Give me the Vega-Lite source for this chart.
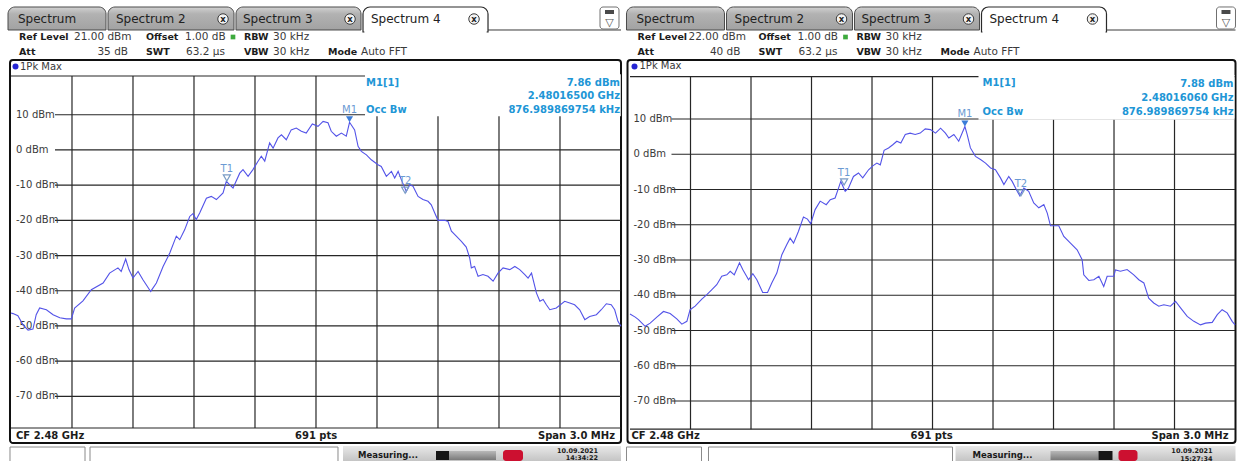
{
  "$schema": "https://vega.github.io/schema/vega-lite/v6.json",
  "padding": 0,
  "background": "white",
  "bounds": "flush",
  "spacing": 0,
  "config": {"view": {"stroke": null}, "facet": {"spacing": 0}, "text": {"font": "DejaVu Sans", "baseline": "middle"}},
  "data": {"values": [
    {"panel":"L","type":"ext","f":-1.5393,"p":-89.225},{"panel":"L","type":"ext","f":1.5025,"p":41.74},
    {"panel":"R","type":"ext","f":-1.5397,"p":-87.87},{"panel":"R","type":"ext","f":1.5272,"p":42.91},

    {"panel":"L","type":"tab","f":-1.5147,"f2":-1.0327,"p":40.60,"p2":34.07},
    {"panel":"L","type":"tab","f":-1.0229,"f2":-0.4032,"p":40.60,"p2":34.07},
    {"panel":"L","type":"tab","f":-0.3934,"f2":0.2214,"p":40.60,"p2":34.07},
    {"panel":"L","type":"tabA","f":0.2312,"f2":0.8460,"p":40.60,"p2":33.50},
    {"panel":"L","type":"cover","f":0.2380,"f2":0.8392,"p":33.93,"p2":33.07},
    {"panel":"L","type":"line","f":0.8460,"f2":1.5001,"p":34.07,"p2":34.07},
    {"panel":"L","type":"icon","f":1.3968,"f2":1.4902,"p":40.60,"p2":34.35},
    {"panel":"L","type":"iconbar","f":1.4213,"f2":1.4656,"p":39.75,"p2":38.62},
    {"panel":"L","type":"icong","f":1.4435,"p":36.06},
    {"panel":"L","type":"tabt","t":"Spectrum","f":-1.4655,"p":37.19},
    {"panel":"L","type":"tabt","t":"Spectrum 2","f":-0.9836,"p":37.19},
    {"panel":"L","type":"tabt","t":"Spectrum 3","f":-0.3590,"p":37.19},
    {"panel":"L","type":"tabt","t":"Spectrum 4","f":0.2705,"p":37.19},
    {"panel":"L","type":"xbtn","f":-0.4573,"p":37.19},
    {"panel":"L","type":"xbtn","f":0.1673,"p":37.19},
    {"panel":"L","type":"xbtn","f":0.7772,"p":37.19},
    {"panel":"L","type":"lab","t":"Ref Level","f":-1.4606,"p":32.08},
    {"panel":"L","type":"lab","t":"Offset","f":-0.8360,"p":32.08},
    {"panel":"L","type":"lab","t":"RBW","f":-0.3541,"p":32.08},
    {"panel":"L","type":"lab","t":"Att","f":-1.4606,"p":27.96},
    {"panel":"L","type":"lab","t":"SWT","f":-0.8360,"p":27.96},
    {"panel":"L","type":"lab","t":"VBW","f":-0.3541,"p":27.96},
    {"panel":"L","type":"lab","t":"Mode","f":0.0591,"p":27.96},
    {"panel":"L","type":"val","t":"21.00 dBm","f":-1.1901,"p":32.08},
    {"panel":"L","type":"val","t":"1.00 dB","f":-0.6442,"p":32.08},
    {"panel":"L","type":"val","t":"30 kHz","f":-0.2115,"p":32.08},
    {"panel":"L","type":"val","t":"63.2 µs","f":-0.6393,"p":27.96},
    {"panel":"L","type":"val","t":"30 kHz","f":-0.2115,"p":27.96},
    {"panel":"L","type":"val","t":"Auto FFT","f":0.2214,"p":27.96},
    {"panel":"L","type":"valR","t":"35 dB","f":-0.9245,"p":27.96},
    {"panel":"L","type":"led","f":-0.4082,"p":32.08},
    {"panel":"L","type":"frame","f":-1.5049,"f2":1.5001,"p":25.55,"p2":-83.26},
    {"panel":"L","type":"grid","f":-1.2,"f2":-1.2,"p":-79,"p2":21},
    {"panel":"L","type":"grid","f":-0.9,"f2":-0.9,"p":-79,"p2":21},
    {"panel":"L","type":"grid","f":-0.6,"f2":-0.6,"p":-79,"p2":21},
    {"panel":"L","type":"grid","f":-0.3,"f2":-0.3,"p":-79,"p2":21},
    {"panel":"L","type":"grid","f":0,"f2":0,"p":-79,"p2":21},
    {"panel":"L","type":"grid","f":0.3,"f2":0.3,"p":-79,"p2":21},
    {"panel":"L","type":"grid","f":0.6,"f2":0.6,"p":-79,"p2":21},
    {"panel":"L","type":"grid","f":0.9,"f2":0.9,"p":-79,"p2":21},
    {"panel":"L","type":"grid","f":1.2,"f2":1.2,"p":-79,"p2":21},
    {"panel":"L","type":"grid","f":-1.5,"f2":1.5,"p":21,"p2":21},
    {"panel":"L","type":"grid","f":-1.5,"f2":1.5,"p":-79,"p2":-79},
    {"panel":"L","type":"grid","f":-1.2836,"f2":1.5,"p":10,"p2":10},
    {"panel":"L","type":"grid","f":-1.2836,"f2":1.5,"p":0,"p2":0},
    {"panel":"L","type":"grid","f":-1.2836,"f2":1.5,"p":-10,"p2":-10},
    {"panel":"L","type":"grid","f":-1.2836,"f2":1.5,"p":-20,"p2":-20},
    {"panel":"L","type":"grid","f":-1.2836,"f2":1.5,"p":-30,"p2":-30},
    {"panel":"L","type":"grid","f":-1.2836,"f2":1.5,"p":-40,"p2":-40},
    {"panel":"L","type":"grid","f":-1.2836,"f2":1.5,"p":-50,"p2":-50},
    {"panel":"L","type":"grid","f":-1.2836,"f2":1.5,"p":-60,"p2":-60},
    {"panel":"L","type":"grid","f":-1.2836,"f2":1.5,"p":-70,"p2":-70},
    {"panel":"L","type":"infobox","f":0.2411,"f2":1.4990,"p":21.5,"p2":9.6},
    {"panel":"L","type":"ylab","t":"10 dBm","f":-1.4754,"p":10},
    {"panel":"L","type":"ylab","t":"0 dBm","f":-1.4754,"p":0},
    {"panel":"L","type":"ylab","t":"-10 dBm","f":-1.4754,"p":-10},
    {"panel":"L","type":"ylab","t":"-20 dBm","f":-1.4754,"p":-20},
    {"panel":"L","type":"ylab","t":"-30 dBm","f":-1.4754,"p":-30},
    {"panel":"L","type":"ylab","t":"-40 dBm","f":-1.4754,"p":-40},
    {"panel":"L","type":"ylab","t":"-50 dBm","f":-1.4754,"p":-50},
    {"panel":"L","type":"ylab","t":"-60 dBm","f":-1.4754,"p":-60},
    {"panel":"L","type":"ylab","t":"-70 dBm","f":-1.4754,"p":-70},
    {"panel":"L","type":"dot","f":-1.4778,"p":23.70},
    {"panel":"L","type":"pk","t":"1Pk Max","f":-1.4557,"p":23.70},
    {"panel":"L","type":"mk","t":"M1","f":0.165,"p":7.86},
    {"panel":"L","type":"tk","t":"T1","f":-0.4385,"p":-8.8},
    {"panel":"L","type":"tk","t":"T2","f":0.4385,"p":-12.3},
    {"panel":"L","type":"infoL","t":"M1[1]","f":0.2460,"p":19.01},
    {"panel":"L","type":"infoL","t":"Occ Bw","f":0.2460,"p":11.34},
    {"panel":"L","type":"infoR","t":"7.86 dBm","f":1.4952,"p":19.01},
    {"panel":"L","type":"infoR","t":"2.48016500 GHz","f":1.4952,"p":15.18},
    {"panel":"L","type":"infoR","t":"876.989869754 kHz","f":1.4952,"p":11.34},
    {"panel":"L","type":"foot","t":"CF 2.48 GHz","f":-1.4754,"p":-81.27},
    {"panel":"L","type":"foot","t":"691 pts","f":-0.1032,"p":-81.27},
    {"panel":"L","type":"footR","t":"Span 3.0 MHz","f":1.4705,"p":-81.27},
    {"panel":"L","type":"sbox","f":-1.5049,"f2":-1.1360,"p":-84.40,"p2":-88.94},
    {"panel":"L","type":"sbox","f":-1.1114,"f2":0.1082,"p":-84.40,"p2":-88.94},
    {"panel":"L","type":"sbar","f":0.1328,"f2":1.5001,"p":-84.11,"p2":-89.2},
    {"panel":"L","type":"pdark","f":0.5902,"f2":0.6541,"p":-85.53,"p2":-88.09},
    {"panel":"L","type":"plight","f":0.6541,"f2":0.8853,"p":-85.53,"p2":-88.09},
    {"panel":"L","type":"logo","f":0.9198,"f2":1.0181,"p":-85.25,"p2":-88.38},
    {"panel":"L","type":"stat","t":"Measuring...","f":0.2066,"p":-86.67},
    {"panel":"L","type":"date","t":"10.09.2021","f":1.3870,"p":-85.53},
    {"panel":"L","type":"date","t":"14:34:22","f":1.3870,"p":-87.66},

    {"panel":"R","type":"tab","f":-1.5174,"f2":-1.0315,"p":41.78,"p2":35.25},
    {"panel":"R","type":"tab","f":-1.0216,"f2":-0.3968,"p":41.78,"p2":35.25},
    {"panel":"R","type":"tab","f":-0.3869,"f2":0.2330,"p":41.78,"p2":35.25},
    {"panel":"R","type":"tabA","f":0.2429,"f2":0.8627,"p":41.78,"p2":34.68},
    {"panel":"R","type":"cover","f":0.2479,"f2":0.8577,"p":35.11,"p2":34.26},
    {"panel":"R","type":"line","f":0.8627,"f2":1.5024,"p":35.25,"p2":35.25},
    {"panel":"R","type":"icon","f":1.4082,"f2":1.5024,"p":41.78,"p2":35.53},
    {"panel":"R","type":"iconbar","f":1.4329,"f2":1.4775,"p":40.92,"p2":39.79},
    {"panel":"R","type":"icong","f":1.4553,"p":37.24},
    {"panel":"R","type":"tabt","t":"Spectrum","f":-1.4678,"p":38.37},
    {"panel":"R","type":"tabt","t":"Spectrum 2","f":-0.9818,"p":38.37},
    {"panel":"R","type":"tabt","t":"Spectrum 3","f":-0.3521,"p":38.37},
    {"panel":"R","type":"tabt","t":"Spectrum 4","f":0.2826,"p":38.37},
    {"panel":"R","type":"xbtn","f":-0.4513,"p":38.37},
    {"panel":"R","type":"xbtn","f":0.1784,"p":38.37},
    {"panel":"R","type":"xbtn","f":0.7933,"p":38.37},
    {"panel":"R","type":"lab","t":"Ref Level","f":-1.4628,"p":33.26},
    {"panel":"R","type":"lab","t":"Offset","f":-0.8629,"p":33.26},
    {"panel":"R","type":"lab","t":"RBW","f":-0.3769,"p":33.26},
    {"panel":"R","type":"lab","t":"Att","f":-1.4628,"p":29.15},
    {"panel":"R","type":"lab","t":"SWT","f":-0.8629,"p":29.15},
    {"panel":"R","type":"lab","t":"VBW","f":-0.3769,"p":29.15},
    {"panel":"R","type":"lab","t":"Mode","f":0.0396,"p":29.15},
    {"panel":"R","type":"val","t":"22.00 dBm","f":-1.2099,"p":33.26},
    {"panel":"R","type":"val","t":"1.00 dB","f":-0.6695,"p":33.26},
    {"panel":"R","type":"val","t":"30 kHz","f":-0.2331,"p":33.26},
    {"panel":"R","type":"val","t":"63.2 µs","f":-0.6645,"p":29.15},
    {"panel":"R","type":"val","t":"30 kHz","f":-0.2331,"p":29.15},
    {"panel":"R","type":"val","t":"Auto FFT","f":0.2032,"p":29.15},
    {"panel":"R","type":"valR","t":"40 dB","f":-0.9521,"p":29.15},
    {"panel":"R","type":"led","f":-0.4315,"p":33.26},
    {"panel":"R","type":"frame","f":-1.5124,"f2":1.5024,"p":26.74,"p2":-81.91},
    {"panel":"R","type":"grid","f":-1.2,"f2":-1.2,"p":-78,"p2":22},
    {"panel":"R","type":"grid","f":-0.9,"f2":-0.9,"p":-78,"p2":22},
    {"panel":"R","type":"grid","f":-0.6,"f2":-0.6,"p":-78,"p2":22},
    {"panel":"R","type":"grid","f":-0.3,"f2":-0.3,"p":-78,"p2":22},
    {"panel":"R","type":"grid","f":0,"f2":0,"p":-78,"p2":22},
    {"panel":"R","type":"grid","f":0.3,"f2":0.3,"p":-78,"p2":22},
    {"panel":"R","type":"grid","f":0.6,"f2":0.6,"p":-78,"p2":22},
    {"panel":"R","type":"grid","f":0.9,"f2":0.9,"p":-78,"p2":22},
    {"panel":"R","type":"grid","f":1.2,"f2":1.2,"p":-78,"p2":22},
    {"panel":"R","type":"grid","f":-1.5,"f2":1.5,"p":22,"p2":22},
    {"panel":"R","type":"grid","f":-1.5,"f2":1.5,"p":-78,"p2":-78},
    {"panel":"R","type":"grid","f":-1.2943,"f2":1.5,"p":10,"p2":10},
    {"panel":"R","type":"grid","f":-1.2943,"f2":1.5,"p":0,"p2":0},
    {"panel":"R","type":"grid","f":-1.2943,"f2":1.5,"p":-10,"p2":-10},
    {"panel":"R","type":"grid","f":-1.2943,"f2":1.5,"p":-20,"p2":-20},
    {"panel":"R","type":"grid","f":-1.2943,"f2":1.5,"p":-30,"p2":-30},
    {"panel":"R","type":"grid","f":-1.2943,"f2":1.5,"p":-40,"p2":-40},
    {"panel":"R","type":"grid","f":-1.2943,"f2":1.5,"p":-50,"p2":-50},
    {"panel":"R","type":"grid","f":-1.2943,"f2":1.5,"p":-60,"p2":-60},
    {"panel":"R","type":"grid","f":-1.2943,"f2":1.5,"p":-70,"p2":-70},
    {"panel":"R","type":"infobox","f":0.2280,"f2":1.4975,"p":22.5,"p2":9.8},
    {"panel":"R","type":"ylab","t":"10 dBm","f":-1.4827,"p":10},
    {"panel":"R","type":"ylab","t":"0 dBm","f":-1.4827,"p":0},
    {"panel":"R","type":"ylab","t":"-10 dBm","f":-1.4827,"p":-10},
    {"panel":"R","type":"ylab","t":"-20 dBm","f":-1.4827,"p":-20},
    {"panel":"R","type":"ylab","t":"-30 dBm","f":-1.4827,"p":-30},
    {"panel":"R","type":"ylab","t":"-40 dBm","f":-1.4827,"p":-40},
    {"panel":"R","type":"ylab","t":"-50 dBm","f":-1.4827,"p":-50},
    {"panel":"R","type":"ylab","t":"-60 dBm","f":-1.4827,"p":-60},
    {"panel":"R","type":"ylab","t":"-70 dBm","f":-1.4827,"p":-70},
    {"panel":"R","type":"dot","f":-1.4777,"p":24.90},
    {"panel":"R","type":"pk","t":"1Pk Max","f":-1.4529,"p":24.90},
    {"panel":"R","type":"mk","t":"M1","f":0.1606,"p":7.88},
    {"panel":"R","type":"tk","t":"T1","f":-0.4385,"p":-8.7},
    {"panel":"R","type":"tk","t":"T2","f":0.4385,"p":-11.8},
    {"panel":"R","type":"infoL","t":"M1[1]","f":0.2479,"p":20.21},
    {"panel":"R","type":"infoL","t":"Occ Bw","f":0.2479,"p":11.99},
    {"panel":"R","type":"infoR","t":"7.88 dBm","f":1.4925,"p":19.93},
    {"panel":"R","type":"infoR","t":"2.48016060 GHz","f":1.4925,"p":16.10},
    {"panel":"R","type":"infoR","t":"876.989869754 kHz","f":1.4925,"p":11.99},
    {"panel":"R","type":"foot","t":"CF 2.48 GHz","f":-1.4926,"p":-79.93},
    {"panel":"R","type":"foot","t":"691 pts","f":-0.1091,"p":-79.93},
    {"panel":"R","type":"footR","t":"Span 3.0 MHz","f":1.4677,"p":-79.93},
    {"panel":"R","type":"sbox","f":-1.5174,"f2":-1.1455,"p":-83.05,"p2":-87.59},
    {"panel":"R","type":"sbox","f":-1.1108,"f2":0.0992,"p":-83.05,"p2":-87.59},
    {"panel":"R","type":"sbar","f":0.1141,"f2":1.5024,"p":-82.76,"p2":-87.85},
    {"panel":"R","type":"plight","f":0.5851,"f2":0.8230,"p":-84.18,"p2":-86.74},
    {"panel":"R","type":"pdark","f":0.8230,"f2":0.8925,"p":-84.18,"p2":-86.74},
    {"panel":"R","type":"logo","f":0.9223,"f2":1.0165,"p":-83.90,"p2":-87.02},
    {"panel":"R","type":"stat","t":"Measuring...","f":0.1982,"p":-85.32},
    {"panel":"R","type":"date","t":"10.09.2021","f":1.3883,"p":-84.18},
    {"panel":"R","type":"date","t":"15:27:34","f":1.3883,"p":-86.31},

    {"panel":"L","type":"trace","f":-1.500,"p":-46.3},{"panel":"L","type":"trace","f":-1.490,"p":-46.5},{"panel":"L","type":"trace","f":-1.466,"p":-47.1},{"panel":"L","type":"trace","f":-1.441,"p":-49.7},{"panel":"L","type":"trace","f":-1.416,"p":-51.2},{"panel":"L","type":"trace","f":-1.392,"p":-50.9},{"panel":"L","type":"trace","f":-1.376,"p":-46.8},{"panel":"L","type":"trace","f":-1.359,"p":-44.9},{"panel":"L","type":"trace","f":-1.326,"p":-45.4},{"panel":"L","type":"trace","f":-1.293,"p":-46.8},{"panel":"L","type":"trace","f":-1.260,"p":-47.7},{"panel":"L","type":"trace","f":-1.228,"p":-48.0},{"panel":"L","type":"trace","f":-1.203,"p":-48.0},{"panel":"L","type":"trace","f":-1.187,"p":-44.9},{"panel":"L","type":"trace","f":-1.146,"p":-42.9},{"panel":"L","type":"trace","f":-1.105,"p":-39.7},{"panel":"L","type":"trace","f":-1.047,"p":-37.8},{"panel":"L","type":"trace","f":-1.015,"p":-35.0},{"panel":"L","type":"trace","f":-0.974,"p":-33.5},{"panel":"L","type":"trace","f":-0.958,"p":-34.5},{"panel":"L","type":"trace","f":-0.936,"p":-31.0},{"panel":"L","type":"trace","f":-0.920,"p":-34.0},{"panel":"L","type":"trace","f":-0.900,"p":-36.4},{"panel":"L","type":"trace","f":-0.875,"p":-34.5},{"panel":"L","type":"trace","f":-0.851,"p":-36.9},{"panel":"L","type":"trace","f":-0.813,"p":-40.2},{"panel":"L","type":"trace","f":-0.785,"p":-37.8},{"panel":"L","type":"trace","f":-0.752,"p":-33.1},{"panel":"L","type":"trace","f":-0.719,"p":-29.3},{"panel":"L","type":"trace","f":-0.687,"p":-24.5},{"panel":"L","type":"trace","f":-0.670,"p":-25.5},{"panel":"L","type":"trace","f":-0.646,"p":-22.7},{"panel":"L","type":"trace","f":-0.621,"p":-18.9},{"panel":"L","type":"trace","f":-0.605,"p":-18.1},{"panel":"L","type":"trace","f":-0.589,"p":-19.8},{"panel":"L","type":"trace","f":-0.572,"p":-17.9},{"panel":"L","type":"trace","f":-0.539,"p":-13.7},{"panel":"L","type":"trace","f":-0.515,"p":-13.2},{"panel":"L","type":"trace","f":-0.490,"p":-14.1},{"panel":"L","type":"trace","f":-0.457,"p":-12.2},{"panel":"L","type":"trace","f":-0.441,"p":-8.9},{"panel":"L","type":"trace","f":-0.424,"p":-9.9},{"panel":"L","type":"trace","f":-0.408,"p":-10.8},{"panel":"L","type":"trace","f":-0.375,"p":-6.6},{"panel":"L","type":"trace","f":-0.359,"p":-5.6},{"panel":"L","type":"trace","f":-0.334,"p":-7.5},{"panel":"L","type":"trace","f":-0.310,"p":-5.6},{"panel":"L","type":"trace","f":-0.285,"p":-3.2},{"panel":"L","type":"trace","f":-0.269,"p":-1.8},{"panel":"L","type":"trace","f":-0.252,"p":-3.2},{"panel":"L","type":"trace","f":-0.228,"p":2.0},{"panel":"L","type":"trace","f":-0.211,"p":0.5},{"panel":"L","type":"trace","f":-0.187,"p":3.4},{"panel":"L","type":"trace","f":-0.170,"p":4.3},{"panel":"L","type":"trace","f":-0.146,"p":2.9},{"panel":"L","type":"trace","f":-0.122,"p":5.7},{"panel":"L","type":"trace","f":-0.097,"p":6.2},{"panel":"L","type":"trace","f":-0.072,"p":5.3},{"panel":"L","type":"trace","f":-0.048,"p":4.8},{"panel":"L","type":"trace","f":-0.018,"p":7.4},{"panel":"L","type":"trace","f":0.010,"p":6.7},{"panel":"L","type":"trace","f":0.035,"p":8.1},{"panel":"L","type":"trace","f":0.059,"p":7.7},{"panel":"L","type":"trace","f":0.075,"p":5.3},{"panel":"L","type":"trace","f":0.100,"p":3.9},{"panel":"L","type":"trace","f":0.125,"p":4.8},{"panel":"L","type":"trace","f":0.149,"p":3.9},{"panel":"L","type":"trace","f":0.165,"p":7.86},{"panel":"L","type":"trace","f":0.190,"p":5.7},{"panel":"L","type":"trace","f":0.207,"p":1.0},{"panel":"L","type":"trace","f":0.223,"p":-0.4},{"panel":"L","type":"trace","f":0.248,"p":-1.4},{"panel":"L","type":"trace","f":0.272,"p":-2.8},{"panel":"L","type":"trace","f":0.305,"p":-4.2},{"panel":"L","type":"trace","f":0.321,"p":-4.7},{"panel":"L","type":"trace","f":0.346,"p":-7.5},{"panel":"L","type":"trace","f":0.371,"p":-6.1},{"panel":"L","type":"trace","f":0.387,"p":-8.0},{"panel":"L","type":"trace","f":0.404,"p":-6.1},{"panel":"L","type":"trace","f":0.420,"p":-8.5},{"panel":"L","type":"trace","f":0.444,"p":-11.8},{"panel":"L","type":"trace","f":0.461,"p":-9.9},{"panel":"L","type":"trace","f":0.477,"p":-10.3},{"panel":"L","type":"trace","f":0.502,"p":-13.2},{"panel":"L","type":"trace","f":0.526,"p":-14.1},{"panel":"L","type":"trace","f":0.551,"p":-14.6},{"panel":"L","type":"trace","f":0.567,"p":-15.6},{"panel":"L","type":"trace","f":0.584,"p":-17.9},{"panel":"L","type":"trace","f":0.600,"p":-20.0},{"panel":"L","type":"trace","f":0.633,"p":-20.0},{"panel":"L","type":"trace","f":0.649,"p":-20.3},{"panel":"L","type":"trace","f":0.666,"p":-23.1},{"panel":"L","type":"trace","f":0.690,"p":-24.5},{"panel":"L","type":"trace","f":0.715,"p":-26.0},{"panel":"L","type":"trace","f":0.739,"p":-27.6},{"panel":"L","type":"trace","f":0.756,"p":-30.7},{"panel":"L","type":"trace","f":0.764,"p":-33.5},{"panel":"L","type":"trace","f":0.780,"p":-33.1},{"panel":"L","type":"trace","f":0.797,"p":-35.9},{"panel":"L","type":"trace","f":0.821,"p":-35.4},{"panel":"L","type":"trace","f":0.846,"p":-35.9},{"panel":"L","type":"trace","f":0.871,"p":-37.3},{"panel":"L","type":"trace","f":0.895,"p":-35.0},{"panel":"L","type":"trace","f":0.920,"p":-33.5},{"panel":"L","type":"trace","f":0.953,"p":-34.0},{"panel":"L","type":"trace","f":0.978,"p":-33.1},{"panel":"L","type":"trace","f":1.002,"p":-34.0},{"panel":"L","type":"trace","f":1.027,"p":-35.4},{"panel":"L","type":"trace","f":1.043,"p":-36.4},{"panel":"L","type":"trace","f":1.060,"p":-35.0},{"panel":"L","type":"trace","f":1.084,"p":-40.6},{"panel":"L","type":"trace","f":1.101,"p":-43.0},{"panel":"L","type":"trace","f":1.117,"p":-42.5},{"panel":"L","type":"trace","f":1.133,"p":-44.0},{"panel":"L","type":"trace","f":1.150,"p":-45.4},{"panel":"L","type":"trace","f":1.182,"p":-44.9},{"panel":"L","type":"trace","f":1.223,"p":-43.0},{"panel":"L","type":"trace","f":1.248,"p":-43.5},{"panel":"L","type":"trace","f":1.272,"p":-44.0},{"panel":"L","type":"trace","f":1.297,"p":-45.4},{"panel":"L","type":"trace","f":1.322,"p":-48.2},{"panel":"L","type":"trace","f":1.346,"p":-47.3},{"panel":"L","type":"trace","f":1.379,"p":-46.8},{"panel":"L","type":"trace","f":1.403,"p":-45.4},{"panel":"L","type":"trace","f":1.428,"p":-43.7},{"panel":"L","type":"trace","f":1.452,"p":-44.0},{"panel":"L","type":"trace","f":1.469,"p":-45.4},{"panel":"L","type":"trace","f":1.485,"p":-48.7},{"panel":"L","type":"trace","f":1.500,"p":-50.1},

    {"panel":"R","type":"trace","f":-1.500,"p":-45.3},{"panel":"R","type":"trace","f":-1.474,"p":-46.2},{"panel":"R","type":"trace","f":-1.458,"p":-46.9},{"panel":"R","type":"trace","f":-1.425,"p":-48.8},{"panel":"R","type":"trace","f":-1.400,"p":-47.9},{"panel":"R","type":"trace","f":-1.367,"p":-46.2},{"panel":"R","type":"trace","f":-1.334,"p":-44.6},{"panel":"R","type":"trace","f":-1.301,"p":-45.2},{"panel":"R","type":"trace","f":-1.268,"p":-46.7},{"panel":"R","type":"trace","f":-1.243,"p":-48.2},{"panel":"R","type":"trace","f":-1.218,"p":-47.4},{"panel":"R","type":"trace","f":-1.202,"p":-44.1},{"panel":"R","type":"trace","f":-1.177,"p":-43.1},{"panel":"R","type":"trace","f":-1.144,"p":-41.1},{"panel":"R","type":"trace","f":-1.119,"p":-39.8},{"panel":"R","type":"trace","f":-1.094,"p":-38.4},{"panel":"R","type":"trace","f":-1.070,"p":-37.0},{"panel":"R","type":"trace","f":-1.045,"p":-34.6},{"panel":"R","type":"trace","f":-1.020,"p":-34.2},{"panel":"R","type":"trace","f":-1.003,"p":-33.2},{"panel":"R","type":"trace","f":-0.983,"p":-34.2},{"panel":"R","type":"trace","f":-0.957,"p":-30.8},{"panel":"R","type":"trace","f":-0.941,"p":-32.7},{"panel":"R","type":"trace","f":-0.912,"p":-35.6},{"panel":"R","type":"trace","f":-0.891,"p":-33.9},{"panel":"R","type":"trace","f":-0.871,"p":-35.6},{"panel":"R","type":"trace","f":-0.842,"p":-39.2},{"panel":"R","type":"trace","f":-0.818,"p":-39.2},{"panel":"R","type":"trace","f":-0.797,"p":-36.5},{"panel":"R","type":"trace","f":-0.772,"p":-33.7},{"panel":"R","type":"trace","f":-0.747,"p":-28.5},{"panel":"R","type":"trace","f":-0.723,"p":-25.7},{"panel":"R","type":"trace","f":-0.706,"p":-23.8},{"panel":"R","type":"trace","f":-0.689,"p":-25.2},{"panel":"R","type":"trace","f":-0.665,"p":-21.9},{"panel":"R","type":"trace","f":-0.640,"p":-17.8},{"panel":"R","type":"trace","f":-0.620,"p":-18.4},{"panel":"R","type":"trace","f":-0.604,"p":-19.7},{"panel":"R","type":"trace","f":-0.582,"p":-15.7},{"panel":"R","type":"trace","f":-0.557,"p":-13.3},{"panel":"R","type":"trace","f":-0.527,"p":-14.3},{"panel":"R","type":"trace","f":-0.507,"p":-12.9},{"panel":"R","type":"trace","f":-0.483,"p":-12.4},{"panel":"R","type":"trace","f":-0.466,"p":-9.6},{"panel":"R","type":"trace","f":-0.455,"p":-7.7},{"panel":"R","type":"trace","f":-0.433,"p":-10.5},{"panel":"R","type":"trace","f":-0.417,"p":-9.6},{"panel":"R","type":"trace","f":-0.392,"p":-6.3},{"panel":"R","type":"trace","f":-0.367,"p":-5.3},{"panel":"R","type":"trace","f":-0.346,"p":-6.7},{"panel":"R","type":"trace","f":-0.317,"p":-4.4},{"panel":"R","type":"trace","f":-0.296,"p":-3.3},{"panel":"R","type":"trace","f":-0.276,"p":-2.5},{"panel":"R","type":"trace","f":-0.259,"p":-3.0},{"panel":"R","type":"trace","f":-0.240,"p":1.1},{"panel":"R","type":"trace","f":-0.218,"p":1.8},{"panel":"R","type":"trace","f":-0.197,"p":2.7},{"panel":"R","type":"trace","f":-0.177,"p":3.7},{"panel":"R","type":"trace","f":-0.157,"p":3.2},{"panel":"R","type":"trace","f":-0.135,"p":5.6},{"panel":"R","type":"trace","f":-0.111,"p":6.0},{"panel":"R","type":"trace","f":-0.086,"p":5.6},{"panel":"R","type":"trace","f":-0.061,"p":6.0},{"panel":"R","type":"trace","f":-0.036,"p":7.2},{"panel":"R","type":"trace","f":-0.010,"p":7.0},{"panel":"R","type":"trace","f":0.015,"p":6.0},{"panel":"R","type":"trace","f":0.040,"p":7.4},{"panel":"R","type":"trace","f":0.064,"p":6.0},{"panel":"R","type":"trace","f":0.081,"p":4.6},{"panel":"R","type":"trace","f":0.106,"p":5.6},{"panel":"R","type":"trace","f":0.130,"p":3.7},{"panel":"R","type":"trace","f":0.1606,"p":7.88},{"panel":"R","type":"trace","f":0.172,"p":5.6},{"panel":"R","type":"trace","f":0.188,"p":1.8},{"panel":"R","type":"trace","f":0.213,"p":-0.6},{"panel":"R","type":"trace","f":0.238,"p":-1.5},{"panel":"R","type":"trace","f":0.263,"p":-2.5},{"panel":"R","type":"trace","f":0.288,"p":-3.9},{"panel":"R","type":"trace","f":0.312,"p":-4.4},{"panel":"R","type":"trace","f":0.337,"p":-6.7},{"panel":"R","type":"trace","f":0.354,"p":-8.6},{"panel":"R","type":"trace","f":0.378,"p":-6.3},{"panel":"R","type":"trace","f":0.395,"p":-7.7},{"panel":"R","type":"trace","f":0.416,"p":-10.1},{"panel":"R","type":"trace","f":0.433,"p":-11.8},{"panel":"R","type":"trace","f":0.453,"p":-9.6},{"panel":"R","type":"trace","f":0.477,"p":-10.5},{"panel":"R","type":"trace","f":0.502,"p":-13.8},{"panel":"R","type":"trace","f":0.527,"p":-15.2},{"panel":"R","type":"trace","f":0.552,"p":-14.3},{"panel":"R","type":"trace","f":0.569,"p":-16.7},{"panel":"R","type":"trace","f":0.585,"p":-20.3},{"panel":"R","type":"trace","f":0.626,"p":-20.3},{"panel":"R","type":"trace","f":0.651,"p":-23.3},{"panel":"R","type":"trace","f":0.684,"p":-25.2},{"panel":"R","type":"trace","f":0.717,"p":-27.1},{"panel":"R","type":"trace","f":0.742,"p":-29.9},{"panel":"R","type":"trace","f":0.750,"p":-34.2},{"panel":"R","type":"trace","f":0.775,"p":-35.8},{"panel":"R","type":"trace","f":0.800,"p":-35.6},{"panel":"R","type":"trace","f":0.825,"p":-34.6},{"panel":"R","type":"trace","f":0.849,"p":-37.5},{"panel":"R","type":"trace","f":0.866,"p":-34.6},{"panel":"R","type":"trace","f":0.899,"p":-34.6},{"panel":"R","type":"trace","f":0.907,"p":-32.8},{"panel":"R","type":"trace","f":0.932,"p":-33.2},{"panel":"R","type":"trace","f":0.965,"p":-32.7},{"panel":"R","type":"trace","f":0.998,"p":-34.2},{"panel":"R","type":"trace","f":1.023,"p":-35.6},{"panel":"R","type":"trace","f":1.048,"p":-36.5},{"panel":"R","type":"trace","f":1.072,"p":-40.8},{"panel":"R","type":"trace","f":1.097,"p":-42.2},{"panel":"R","type":"trace","f":1.122,"p":-43.1},{"panel":"R","type":"trace","f":1.147,"p":-42.7},{"panel":"R","type":"trace","f":1.180,"p":-43.1},{"panel":"R","type":"trace","f":1.205,"p":-41.7},{"panel":"R","type":"trace","f":1.230,"p":-43.6},{"panel":"R","type":"trace","f":1.263,"p":-46.0},{"panel":"R","type":"trace","f":1.296,"p":-47.4},{"panel":"R","type":"trace","f":1.329,"p":-48.4},{"panel":"R","type":"trace","f":1.354,"p":-47.9},{"panel":"R","type":"trace","f":1.387,"p":-47.7},{"panel":"R","type":"trace","f":1.412,"p":-45.5},{"panel":"R","type":"trace","f":1.436,"p":-44.1},{"panel":"R","type":"trace","f":1.461,"p":-45.0},{"panel":"R","type":"trace","f":1.486,"p":-47.4},{"panel":"R","type":"trace","f":1.500,"p":-48.4}
  ]},
  "facet": {"column": {"field": "panel", "type": "nominal", "header": {"title": null, "labels": false, "labelPadding": 0, "titlePadding": 0}}},
  "resolve": {"scale": {"x": "independent", "y": "independent"}},
  "spec": {
    "width": 618.5,
    "height": 461,
    "encoding": {
      "x": {"field": "f", "type": "quantitative", "scale": {"nice": false, "zero": false}, "axis": null},
      "y": {"field": "p", "type": "quantitative", "scale": {"nice": false, "zero": false}, "axis": null}
    },
    "layer": [
      {"transform": [{"filter": "datum.type==='ext'"}], "mark": {"type": "point", "opacity": 0}},
      {"transform": [{"filter": "datum.type==='tab'"}], "mark": {"type": "rect", "fill": {"gradient": "linear", "x1": 0, "y1": 0, "x2": 0, "y2": 1, "stops": [{"offset": 0, "color": "#d2d2d2"}, {"offset": 0.3, "color": "#b2b2b2"}, {"offset": 1, "color": "#a2a2a2"}]}, "stroke": "#4a4a4a", "strokeWidth": 1, "cornerRadiusTopLeft": 7, "cornerRadiusTopRight": 7}, "encoding": {"x2": {"field": "f2"}, "y2": {"field": "p2"}}},
      {"transform": [{"filter": "datum.type==='tabA'"}], "mark": {"type": "rect", "fill": "white", "stroke": "#2a2a2a", "strokeWidth": 1.2, "cornerRadiusTopLeft": 7, "cornerRadiusTopRight": 7}, "encoding": {"x2": {"field": "f2"}, "y2": {"field": "p2"}}},
      {"transform": [{"filter": "datum.type==='cover'"}], "mark": {"type": "rect", "fill": "white"}, "encoding": {"x2": {"field": "f2"}, "y2": {"field": "p2"}}},
      {"transform": [{"filter": "datum.type==='line'"}], "mark": {"type": "rule", "color": "#3a3a3a", "strokeWidth": 1}, "encoding": {"x2": {"field": "f2"}, "y2": {"field": "p2"}}},
      {"transform": [{"filter": "datum.type==='icon'"}], "mark": {"type": "rect", "fill": "white", "stroke": "#707070", "strokeWidth": 1, "cornerRadius": 3}, "encoding": {"x2": {"field": "f2"}, "y2": {"field": "p2"}}},
      {"transform": [{"filter": "datum.type==='iconbar'"}], "mark": {"type": "rect", "fill": "#4a4a4a"}, "encoding": {"x2": {"field": "f2"}, "y2": {"field": "p2"}}},
      {"transform": [{"filter": "datum.type==='icong'"}], "mark": {"type": "text", "text": "▽", "fontSize": 11, "color": "#555555", "align": "center"}},
      {"transform": [{"filter": "datum.type==='xbtn'"}], "mark": {"type": "point", "shape": "circle", "size": 110, "filled": true, "color": "#f2f2f2", "stroke": "#3c3c3c", "strokeWidth": 1, "opacity": 1}},
      {"transform": [{"filter": "datum.type==='xbtn'"}], "mark": {"type": "text", "text": "x", "fontSize": 8.5, "fontWeight": "bold", "color": "#222222", "align": "center"}},
      {"transform": [{"filter": "datum.type==='tabt'"}], "mark": {"type": "text", "fontSize": 12, "color": "#222222", "align": "left"}, "encoding": {"text": {"field": "t"}}},
      {"transform": [{"filter": "datum.type==='lab'"}], "mark": {"type": "text", "fontSize": 9.5, "fontWeight": "bold", "color": "#1c1c1c", "align": "left"}, "encoding": {"text": {"field": "t"}}},
      {"transform": [{"filter": "datum.type==='foot'"}], "mark": {"type": "text", "fontSize": 10, "fontWeight": "bold", "color": "#1c1c1c", "align": "left"}, "encoding": {"text": {"field": "t"}}},
      {"transform": [{"filter": "datum.type==='val'"}], "mark": {"type": "text", "fontSize": 10.5, "color": "#3a3a3a", "align": "left"}, "encoding": {"text": {"field": "t"}}},
      {"transform": [{"filter": "datum.type==='valR'"}], "mark": {"type": "text", "fontSize": 10.5, "color": "#3a3a3a", "align": "right"}, "encoding": {"text": {"field": "t"}}},
      {"transform": [{"filter": "datum.type==='led'"}], "mark": {"type": "point", "shape": "square", "size": 22, "filled": true, "color": "#3daa3d", "opacity": 1}},
      {"transform": [{"filter": "datum.type==='frame'"}], "mark": {"type": "rect", "fillOpacity": 0, "stroke": "#111111", "strokeWidth": 2, "cornerRadius": 3}, "encoding": {"x2": {"field": "f2"}, "y2": {"field": "p2"}}},
      {"transform": [{"filter": "datum.type==='grid'"}], "mark": {"type": "rule", "color": "#262626", "strokeWidth": 1.2}, "encoding": {"x2": {"field": "f2"}, "y2": {"field": "p2"}}},
      {"transform": [{"filter": "datum.type==='infobox'"}], "mark": {"type": "rect", "fill": "white"}, "encoding": {"x2": {"field": "f2"}, "y2": {"field": "p2"}}},
      {"transform": [{"filter": "datum.type==='ylab' || datum.type==='pk'"}], "mark": {"type": "text", "fontSize": 10, "color": "#3a3a3a", "align": "left"}, "encoding": {"text": {"field": "t"}}},
      {"transform": [{"filter": "datum.type==='dot'"}], "mark": {"type": "point", "shape": "circle", "size": 36, "filled": true, "color": "#2626d4", "opacity": 1}},
      {"transform": [{"filter": "datum.type==='trace'"}], "mark": {"type": "line", "color": "#5353e8", "strokeWidth": 1.1}},
      {"transform": [{"filter": "datum.type==='mk'"}], "mark": {"type": "point", "shape": "triangle-down", "size": 50, "filled": true, "color": "#3b7dd8", "opacity": 1, "yOffset": -3}},
      {"transform": [{"filter": "datum.type==='tk'"}], "mark": {"type": "point", "shape": "triangle-down", "size": 50, "filled": false, "color": "#7a9cc6", "strokeWidth": 1.2, "opacity": 1, "yOffset": -3}},
      {"transform": [{"filter": "datum.type==='mk' || datum.type==='tk'"}], "mark": {"type": "text", "fontSize": 10, "color": "#6b9ad3", "align": "center", "yOffset": -12}, "encoding": {"text": {"field": "t"}}},
      {"transform": [{"filter": "datum.type==='infoL'"}], "mark": {"type": "text", "fontSize": 10, "fontWeight": "bold", "color": "#2196d6", "align": "left"}, "encoding": {"text": {"field": "t"}}},
      {"transform": [{"filter": "datum.type==='infoR'"}], "mark": {"type": "text", "fontSize": 10, "fontWeight": "bold", "color": "#2196d6", "align": "right"}, "encoding": {"text": {"field": "t"}}},
      {"transform": [{"filter": "datum.type==='footR'"}], "mark": {"type": "text", "fontSize": 10, "fontWeight": "bold", "color": "#1c1c1c", "align": "right"}, "encoding": {"text": {"field": "t"}}},
      {"transform": [{"filter": "datum.type==='sbox'"}], "mark": {"type": "rect", "fill": "white", "stroke": "#8a8a8a", "strokeWidth": 1}, "encoding": {"x2": {"field": "f2"}, "y2": {"field": "p2"}}},
      {"transform": [{"filter": "datum.type==='sbar'"}], "mark": {"type": "rect", "fill": {"gradient": "linear", "x1": 0, "y1": 0, "x2": 0, "y2": 1, "stops": [{"offset": 0, "color": "#e8e8e8"}, {"offset": 1, "color": "#bdbdbd"}]}}, "encoding": {"x2": {"field": "f2"}, "y2": {"field": "p2"}}},
      {"transform": [{"filter": "datum.type==='plight'"}], "mark": {"type": "rect", "fill": {"gradient": "linear", "x1": 0, "y1": 0, "x2": 0, "y2": 1, "stops": [{"offset": 0, "color": "#b8b8b8"}, {"offset": 1, "color": "#7a7a7a"}]}}, "encoding": {"x2": {"field": "f2"}, "y2": {"field": "p2"}}},
      {"transform": [{"filter": "datum.type==='pdark'"}], "mark": {"type": "rect", "fill": "#161616"}, "encoding": {"x2": {"field": "f2"}, "y2": {"field": "p2"}}},
      {"transform": [{"filter": "datum.type==='logo'"}], "mark": {"type": "rect", "fill": "#cc1030", "cornerRadius": 3}, "encoding": {"x2": {"field": "f2"}, "y2": {"field": "p2"}}},
      {"transform": [{"filter": "datum.type==='stat'"}], "mark": {"type": "text", "fontSize": 8.5, "fontWeight": "bold", "color": "#1a1a1a", "align": "left"}, "encoding": {"text": {"field": "t"}}},
      {"transform": [{"filter": "datum.type==='date'"}], "mark": {"type": "text", "fontSize": 6.5, "fontWeight": "bold", "color": "#1a1a1a", "align": "right"}, "encoding": {"text": {"field": "t"}}}
    ]
  }
}
